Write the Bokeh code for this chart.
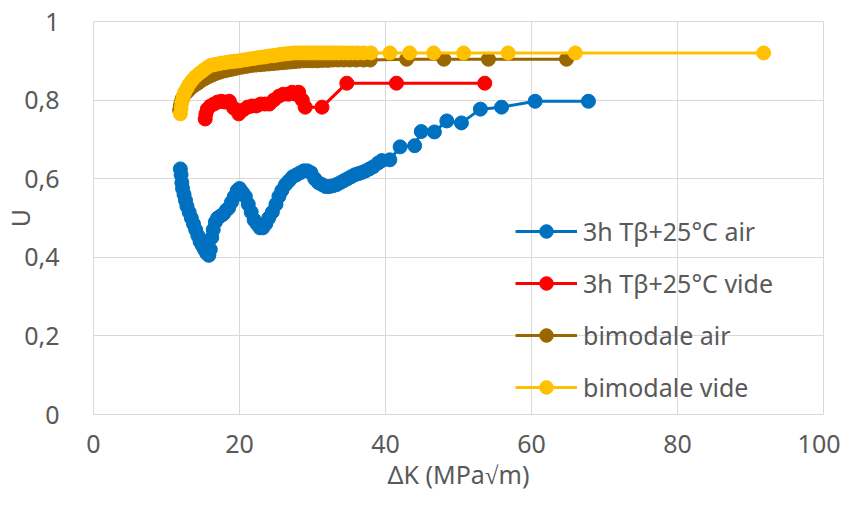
from bokeh.plotting import figure
from bokeh.models import FixedTicker, Legend, LegendItem
from bokeh.embed import file_html
from bokeh.resources import INLINE

# ---- data ----
air_3h_x = [11.9, 12.0, 12.1, 12.2, 12.4, 12.6, 12.8, 13.1, 13.4, 13.7,
            14.0, 14.3, 14.6, 14.9, 15.2, 15.5, 15.8, 16.0, 16.2, 16.4,
            16.7, 17.0, 17.4, 17.8, 18.2, 18.5, 18.9, 19.3, 19.7, 20.0,
            20.4, 20.8, 21.2, 21.6, 22.0, 22.4, 22.8, 23.2, 23.6, 24.0,
            24.5, 25.0, 25.4, 25.8, 26.3, 26.8, 27.3, 27.8, 28.3, 28.8,
            29.3, 29.8, 30.3, 30.8, 31.3, 31.8, 32.3, 32.8, 33.3, 33.8,
            34.3, 34.8, 35.3, 35.8, 36.3, 36.8, 37.3, 37.8, 38.3, 39.0,
            39.5, 40.6, 42.0, 44.0, 44.9, 46.7, 48.4, 50.4, 53.0, 55.9,
            60.5, 67.8]
air_3h_y = [0.625, 0.61, 0.59, 0.575, 0.56, 0.545, 0.53, 0.515, 0.50, 0.485,
            0.47, 0.455, 0.44, 0.43, 0.42, 0.41, 0.405, 0.42, 0.45, 0.47,
            0.49, 0.50, 0.505, 0.51, 0.52, 0.525, 0.54, 0.555, 0.57, 0.575,
            0.565, 0.555, 0.535, 0.515, 0.495, 0.485, 0.475, 0.475, 0.485, 0.50,
            0.515, 0.535, 0.555, 0.57, 0.585, 0.595, 0.605, 0.61, 0.615, 0.62,
            0.62, 0.615, 0.60, 0.59, 0.585, 0.58, 0.58, 0.582, 0.585, 0.59,
            0.595, 0.60, 0.605, 0.61, 0.613, 0.616, 0.62, 0.625, 0.63, 0.64,
            0.646, 0.648, 0.681, 0.684, 0.72, 0.719, 0.747, 0.742, 0.777, 0.782,
            0.797, 0.797]

vide_3h_x = [15.3, 15.4, 15.6, 16.0, 16.5, 17.0, 17.5, 18.0, 18.6, 19.2,
             19.9, 20.5, 21.1, 21.7, 22.3, 22.9, 23.5, 24.1, 24.7, 25.4,
             26.0, 26.7, 27.2, 27.7, 28.1, 28.6, 29.0, 31.3, 34.7, 41.5,
             53.6]
vide_3h_y = [0.752, 0.765, 0.777, 0.785, 0.79, 0.795, 0.797, 0.795, 0.797, 0.78,
             0.765, 0.775, 0.782, 0.785, 0.785, 0.79, 0.79, 0.79, 0.80, 0.81,
             0.815, 0.815, 0.82, 0.815, 0.82, 0.80, 0.782, 0.782, 0.843, 0.843,
             0.843]

bimo_air_x = [11.8, 11.9, 12.0, 12.2, 12.5, 12.9, 13.3, 13.8, 14.3, 14.8,
              15.3, 15.8, 16.3, 16.8, 17.3, 17.8, 18.3, 18.8, 19.3, 19.8,
              20.4, 21.0, 21.6, 22.2, 22.8, 23.4, 24.0, 24.6, 25.2, 25.8,
              26.4, 27.0, 27.6, 28.2, 28.8, 29.4, 30.0, 30.7, 31.4, 32.1,
              32.8, 33.5, 34.3, 35.1, 36.0, 37.0, 37.9,
              42.9, 48.0, 54.1, 64.8]
bimo_air_y = [0.775, 0.785, 0.795, 0.805, 0.815, 0.822, 0.83, 0.837, 0.843, 0.85,
              0.855, 0.86, 0.864, 0.868, 0.871, 0.874, 0.876, 0.878, 0.88, 0.882,
              0.884, 0.886, 0.888, 0.889, 0.89, 0.891, 0.892, 0.893, 0.894, 0.895,
              0.896, 0.897, 0.898, 0.899, 0.90, 0.90, 0.90, 0.90, 0.901, 0.901,
              0.902, 0.902, 0.902, 0.902, 0.902, 0.902, 0.902,
              0.904, 0.904, 0.904, 0.904]

bimo_vide_x = [11.9, 12.0, 12.1, 12.3, 12.5, 12.8, 13.1, 13.5, 14.0, 14.5,
               15.0, 15.5, 16.0, 16.5, 17.0, 17.5, 18.0, 18.5, 19.0, 19.5,
               20.0, 20.5, 21.0, 21.5, 22.0, 22.5, 23.0, 23.5, 24.0, 24.5,
               25.0, 25.5, 26.0, 26.5, 27.0, 27.5, 28.0, 28.5, 29.0, 29.5,
               30.0, 30.5, 31.0, 31.5, 32.0, 32.5, 33.0, 33.6, 34.2, 34.8,
               35.5, 36.2, 37.0, 38.0,
               40.6, 43.3, 46.6, 50.7, 56.8, 66.0, 91.8]
bimo_vide_y = [0.765, 0.78, 0.795, 0.81, 0.82, 0.83, 0.84, 0.85, 0.86, 0.868,
               0.875, 0.882, 0.888, 0.89, 0.892, 0.894, 0.895, 0.897, 0.898, 0.899,
               0.90, 0.902, 0.903, 0.905, 0.906, 0.908, 0.909, 0.91, 0.912, 0.913,
               0.914, 0.916, 0.917, 0.918, 0.919, 0.92, 0.92, 0.92, 0.92, 0.92,
               0.92, 0.92, 0.92, 0.92, 0.92, 0.92, 0.92, 0.92, 0.92, 0.92,
               0.92, 0.92, 0.92, 0.92,
               0.92, 0.92, 0.92, 0.92, 0.92, 0.92, 0.92]

series_names = ["3h Tβ+25°C air", "3h Tβ+25°C vide", "bimodale air", "bimodale vide"]
series_colors = ["#0070C0", "#FF0000", "#996600", "#FFC000"]

x_ticks = [0, 20, 40, 60, 80, 100]
y_ticks = [0, 0.2, 0.4, 0.6, 0.8, 1.0]
y_tick_labels = ["0", "0,2", "0,4", "0,6", "0,8", "1"]

x_title = "ΔK (MPa√m)"
y_title = "U"

# ---- figure ----
TXT = "#595959"
FONT = "Noto Sans"
GRID = "#d9d9d9"

p = figure(width=840, height=493, output_backend="svg", toolbar_location=None,
           x_range=(0, 100), y_range=(0, 1),
           min_border_left=91, min_border_right=17, min_border_top=21, min_border_bottom=76)
p.outline_line_color = GRID
p.background_fill_color = "white"

p.xaxis.ticker = FixedTicker(ticks=x_ticks)
p.yaxis.ticker = FixedTicker(ticks=y_ticks)
p.yaxis.major_label_overrides = {v: t for v, t in zip(y_ticks, y_tick_labels)}

for ax in (p.xaxis[0], p.yaxis[0]):
    ax.axis_line_color = None
    ax.major_tick_line_color = None
    ax.minor_tick_line_color = None
    ax.major_label_text_font = FONT
    ax.major_label_text_font_size = "25px"
    ax.major_label_text_color = TXT
    ax.axis_label_text_font = FONT
    ax.axis_label_text_font_size = "25px"
    ax.axis_label_text_font_style = "normal"
    ax.axis_label_text_color = TXT

p.xaxis.major_label_standoff = 14
p.yaxis.major_label_standoff = 28
p.xaxis.axis_label = x_title
p.xaxis.axis_label_standoff = 1
p.yaxis.axis_label = y_title
p.yaxis.axis_label_standoff = -16

p.xgrid.grid_line_color = GRID
p.ygrid.grid_line_color = GRID

data = [(air_3h_x, air_3h_y), (vide_3h_x, vide_3h_y),
        (bimo_air_x, bimo_air_y), (bimo_vide_x, bimo_vide_y)]
items = []
for (xs, ys), name, col in zip(data, series_names, series_colors):
    ln = p.line(xs, ys, line_color=col, line_width=3)
    sc = p.scatter(xs, ys, marker="circle", size=14, fill_color=col, line_color=col)
    items.append(LegendItem(label=name, renderers=[ln, sc]))

legend = Legend(items=items, location=(422, 10), padding=0, margin=0,
                border_line_color=None, background_fill_alpha=0,
                glyph_width=62, glyph_height=34, label_height=34, spacing=18,
                label_standoff=6, label_text_font=FONT, label_text_font_size="25px",
                label_text_color=TXT)
p.add_layout(legend, "center")

open("out.html", "w").write(file_html(p, INLINE))
